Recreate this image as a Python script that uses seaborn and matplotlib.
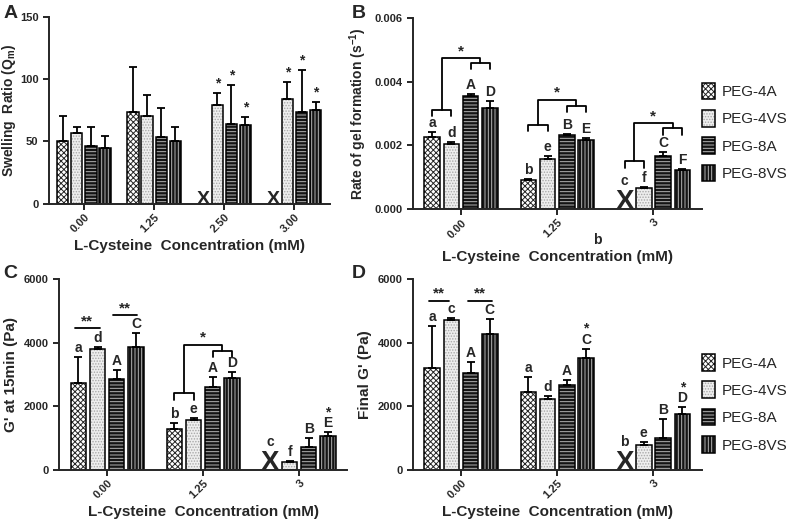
import numpy as np
import pandas as pd
import matplotlib
matplotlib.use("Agg")
import matplotlib.pyplot as plt
from matplotlib.patches import Rectangle, Patch
import seaborn as sns

nan = np.nan

hydrogels = ["PEG-4A", "PEG-4VS", "PEG-8A", "PEG-8VS"]
conc_a = ["0.00", "1.25", "2.50", "3.00"]
conc_bcd = ["0.00", "1.25", "3"]

# A: swelling ratio (mean, upper SD)
swell_4a = [50.6, 73.4, nan, nan]
swell_4vs = [56.8, 70.2, 79.6, 84.4]
swell_8a = [46.0, 53.3, 64.0, 73.4]
swell_8vs = [44.7, 50.0, 63.2, 75.0]
swell_4a_err = [19.6, 36.2, nan, nan]
swell_4vs_err = [5.2, 16.8, 9.4, 13.4]
swell_8a_err = [16.0, 23.6, 31.4, 34.3]
swell_8vs_err = [9.9, 12.0, 6.4, 6.7]

# B: rate of gel formation
rate_4a = [0.00226, 0.00092, nan]
rate_4vs = [0.00204, 0.00157, 0.00066]
rate_8a = [0.00354, 0.00234, 0.00168]
rate_8vs = [0.00317, 0.00218, 0.00123]
rate_4a_err = [0.00016, 0.00002, nan]
rate_4vs_err = [0.00006, 0.00011, 0.00002]
rate_8a_err = [0.00007, 0.00003, 0.00010]
rate_8vs_err = [0.00021, 0.00005, 0.00002]

# C: G' at 15 min
g15_4a = [2723, 1288, nan]
g15_4vs = [3791, 1571, 262]
g15_8a = [2848, 2597, 733]
g15_8vs = [3853, 2880, 1079]
g15_4a_err = [816, 199, nan]
g15_4vs_err = [83, 52, 20]
g15_8a_err = [293, 314, 262]
g15_8vs_err = [461, 209, 104]

# D: final G'
gf_4a = [3215, 2440, nan]
gf_4vs = [4712, 2220, 785]
gf_8a = [3037, 2670, 995]
gf_8vs = [4272, 3508, 1770]
gf_4a_err = [1319, 492, nan]
gf_4vs_err = [52, 105, 105]
gf_8a_err = [366, 157, 597]
gf_8vs_err = [471, 293, 199]

# significance letters per group / hydrogel
stars_a = [["", "", "", ""], ["", "", "", ""], ["", "*", "*", "*"], ["", "*", "*", "*"]]
letters_b = [["a", "d", "A", "D"], ["b", "e", "B", "E"], ["c", "f", "C", "F"]]
letters_c = [["a", "d", "A", "C"], ["b", "e", "A", "D"], ["c", "f", "B", "*\nE"]]
letters_d = [["a", "c", "A", "C"], ["a", "d", "A", "*\nC"], ["b", "e", "B", "*\nD"]]

STYLES = [
    dict(fc="white", hc="#262626", hatch="xxxxxx"),
    dict(fc="#eeeeee", hc="#a8a8a8", hatch="......"),
    dict(fc="#141414", hc="#b4b4b4", hatch="-----"),
    dict(fc="#141414", hc="#b4b4b4", hatch="|||||"),
]

sns.set_style("ticks")
plt.rcParams["font.family"] = ["Liberation Sans", "DejaVu Sans"]
plt.rcParams["font.weight"] = "bold"
plt.rcParams["axes.labelweight"] = "bold"
plt.rcParams["mathtext.default"] = "regular"
plt.rcParams["hatch.linewidth"] = 0.7


def offset(hi):
    return -0.3 + 0.2 * hi


def draw_panel(ax, conc, means, errs, ylim, yticks, yticklabels, ylabel, xsize, ylsize,
               ylpad=4, xlpad=3):
    rows = []
    for gi, c in enumerate(conc):
        for hi, h in enumerate(hydrogels):
            rows.append((c, h, means[hi][gi]))
    df = pd.DataFrame(rows, columns=["conc", "gel", "value"]).dropna()
    sns.barplot(data=df, x="conc", y="value", hue="gel", order=conc, hue_order=hydrogels,
                errorbar=None, gap=0.2, legend=False, ax=ax)
    for p in list(ax.patches):
        cx = p.get_x() + p.get_width() / 2
        gi = int(round(cx))
        hi = int(round((cx - gi + 0.3) / 0.2))
        st = STYLES[hi]
        p.set_facecolor(st["fc"])
        p.set_edgecolor(st["hc"])
        p.set_linewidth(0)
        p.set_hatch(st["hatch"])
        ax.add_patch(Rectangle((p.get_x(), 0), p.get_width(), p.get_height(), fill=False,
                               edgecolor="black", lw=1.1, zorder=p.get_zorder() + 0.1))
    for gi in range(len(conc)):
        for hi in range(4):
            m, e = means[hi][gi], errs[hi][gi]
            x = gi + offset(hi)
            if np.isnan(m):
                ax.text(x, 0, "X", ha="center", va="baseline", fontsize=xsize,
                        fontweight="bold", zorder=5)
                continue
            ax.errorbar(x, m, yerr=[[0], [e]], fmt="none", ecolor="black",
                        elinewidth=1.3, capsize=3.2, capthick=1.3, zorder=4)
    ax.set_xlim(-0.5, len(conc) - 0.5)
    ax.set_ylim(*ylim)
    ax.set_yticks(yticks)
    ax.set_yticklabels(yticklabels)
    ax.set_xticks(range(len(conc)))
    ax.set_xticklabels(conc, rotation=45, ha="right", rotation_mode="anchor")
    ax.set_xlabel("L-Cysteine  Concentration (mM)", fontsize=11, labelpad=xlpad)
    ax.set_ylabel(ylabel, fontsize=ylsize, labelpad=ylpad)
    sns.despine(ax=ax)
    for s in ["left", "bottom"]:
        ax.spines[s].set_linewidth(1.4)
    ax.tick_params(width=1.4, length=4, labelsize=8, direction="out")
    ax.tick_params(axis="x", pad=2)


def label_bars(ax, means, errs, labels, xoff):
    for gi, row in enumerate(labels):
        for hi, txt in enumerate(row):
            if not txt:
                continue
            m, e = means[hi][gi], errs[hi][gi]
            x = gi + offset(hi)
            if np.isnan(m):
                y, dy = 0, xoff
            else:
                y, dy = m + e, 1.5
            ax.annotate(txt, (x, y), xytext=(0, dy), textcoords="offset points",
                        ha="center", va="bottom", fontsize=10, fontweight="bold",
                        linespacing=0.75)


def bracket(ax, x1, x2, y, drop):
    ax.plot([x1, x1, x2, x2], [y - drop, y, y, y - drop], color="black", lw=1.3)


def split_compare(ax, gi, low_y, high_y, top_y, drop):
    bracket(ax, gi - 0.3, gi - 0.1, low_y, drop)
    bracket(ax, gi + 0.1, gi + 0.3, high_y, drop)
    ax.plot([gi - 0.2, gi - 0.2, gi + 0.2, gi + 0.2], [low_y, top_y, top_y, high_y],
            color="black", lw=1.3)
    ax.text(gi, top_y, "*", ha="center", va="bottom", fontsize=11, fontweight="bold")


def pair_line(ax, x1, x2, y):
    ax.plot([x1, x2], [y, y], color="black", lw=1.3)
    ax.text((x1 + x2) / 2, y, "**", ha="center", va="bottom", fontsize=11, fontweight="bold")


fig = plt.figure(figsize=(8, 5.24), dpi=100)
ax_a = fig.add_axes([0.061, 0.611, 0.351, 0.357])
ax_b = fig.add_axes([0.516, 0.601, 0.361, 0.3645])
ax_c = fig.add_axes([0.074, 0.103, 0.360, 0.3645])
ax_d = fig.add_axes([0.516, 0.103, 0.361, 0.3645])

# A
sw = [swell_4a, swell_4vs, swell_8a, swell_8vs]
sw_e = [swell_4a_err, swell_4vs_err, swell_8a_err, swell_8vs_err]
draw_panel(ax_a, conc_a, sw, sw_e, (0, 150), [0, 50, 100, 150], ["0", "50", "100", "150"],
           "Swelling  Ratio (Q$_m$)", 14, 10, ylpad=1.5)
label_bars(ax_a, sw, sw_e, stars_a, 0)

# B
rt = [rate_4a, rate_4vs, rate_8a, rate_8vs]
rt_e = [rate_4a_err, rate_4vs_err, rate_8a_err, rate_8vs_err]
draw_panel(ax_b, conc_bcd, rt, rt_e, (0, 0.006), [0, 0.002, 0.004, 0.006],
           ["0.000", "0.002", "0.004", "0.006"], "Rate of gel formation (s$^{-1}$)", 20, 10,
           xlpad=7)
label_bars(ax_b, rt, rt_e, letters_b, 15)
split_compare(ax_b, 0, 0.00312, 0.00459, 0.00474, 0.0002)
split_compare(ax_b, 1, 0.00265, 0.00325, 0.00343, 0.0002)
split_compare(ax_b, 2, 0.00150, 0.00254, 0.00270, 0.0002)
ax_b.text(0.64, -0.16, "b", transform=ax_b.transAxes, ha="center", va="center",
          fontsize=10, fontweight="bold")

# C
gc = [g15_4a, g15_4vs, g15_8a, g15_8vs]
gc_e = [g15_4a_err, g15_4vs_err, g15_8a_err, g15_8vs_err]
draw_panel(ax_c, conc_bcd, gc, gc_e, (0, 6000), [0, 2000, 4000, 6000],
           ["0", "2000", "4000", "6000"], "G' at 15min (Pa)", 20, 11)
label_bars(ax_c, gc, gc_e, letters_c, 15)
pair_line(ax_c, -0.34, -0.08, 4450)
pair_line(ax_c, 0.06, 0.31, 4870)
split_compare(ax_c, 1, 2410, 3740, 3930, 200)

# D
gd = [gf_4a, gf_4vs, gf_8a, gf_8vs]
gd_e = [gf_4a_err, gf_4vs_err, gf_8a_err, gf_8vs_err]
draw_panel(ax_d, conc_bcd, gd, gd_e, (0, 6000), [0, 2000, 4000, 6000],
           ["0", "2000", "4000", "6000"], "Final G' (Pa)", 20, 11)
label_bars(ax_d, gd, gd_e, letters_d, 15)
pair_line(ax_d, -0.33, -0.12, 5320)
pair_line(ax_d, 0.07, 0.32, 5320)

# panel letters
for txt, x, y in [("A", 0.004, 0.99), ("B", 0.44, 0.99), ("C", 0.004, 0.495), ("D", 0.44, 0.495)]:
    fig.text(x, y, txt, fontsize=14, fontweight="bold", va="top", ha="left")

# legends
handles = [(Patch(facecolor=s["fc"], edgecolor=s["hc"], lw=0, hatch=s["hatch"]),
            Patch(fill=False, edgecolor="black", lw=1.1)) for s in STYLES]
for yc in [0.748, 0.23]:
    fig.legend(handles, hydrogels, loc="center left", bbox_to_anchor=(0.877, yc),
               frameon=False, borderpad=0, borderaxespad=0, handlelength=0.85,
               handleheight=1.3, handletextpad=0.45, labelspacing=0.7,
               prop={"size": 11, "weight": "normal"})

fig.savefig("out.png", dpi=100)
